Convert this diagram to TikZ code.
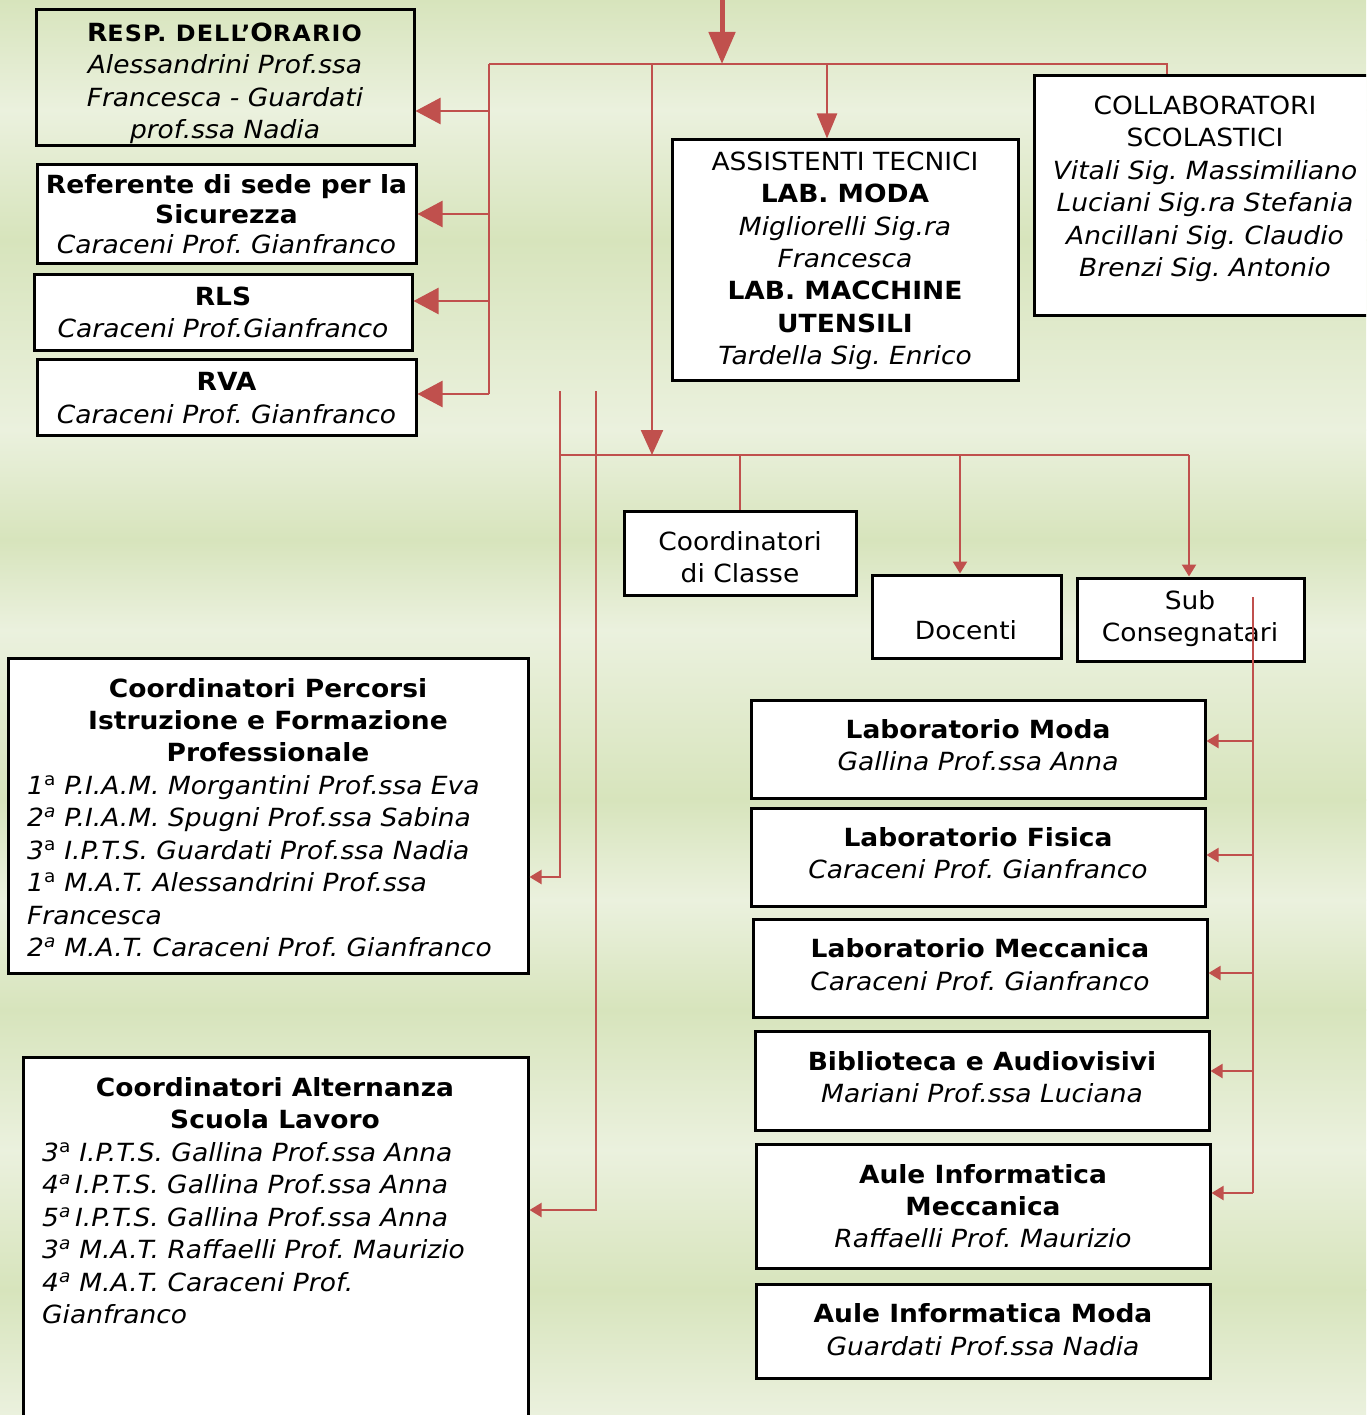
\documentclass[tikz,border=0pt]{standalone}
\usepackage{fontspec}
\setmainfont[FakeStretch=1.06]{DejaVu Sans}
\usetikzlibrary{arrows.meta}
\definecolor{bgl}{HTML}{EBF1DE}
\definecolor{bgd}{HTML}{D7E4BC}
\definecolor{link}{HTML}{C0504D}
\newcommand\smcap[1]{{\fontsize{22.5}{32.4}\selectfont #1}}
\newcommand\ord[1]{\textsuperscript{#1}}
\begin{document}
\frenchspacing
\begin{tikzpicture}[x=1pt,y=-1pt,
  box/.style={draw=black, line width=3pt, fill=white, inner sep=0pt},
  txt/.style={inner sep=0pt, align=center, yshift=-3pt, font=\fontsize{25}{32.4}\selectfont},
  conn/.style={draw=link, line width=2.4pt},
  thin/.style={draw=link, line width=2pt},
  bigtip/.style={-{Triangle[length=25pt,width=26pt]}},
  midtip/.style={-{Triangle[length=25pt,width=22pt]}},
  smalltip/.style={-{Triangle[length=12pt,width=14pt]}}]
\useasboundingbox (0,0) rectangle (1366,1415);
\clip (0,0) rectangle (1366,1415);

% banded green backdrop
\foreach \ya/\ca/\yb/\cb in {0/bgd/110/bgl, 110/bgl/240/bgd, 240/bgd/430/bgl,
    430/bgl/540/bgd, 540/bgd/630/bgl, 630/bgl/800/bgd, 800/bgd/900/bgl,
    900/bgl/1010/bgd, 1010/bgd/1150/bgl, 1150/bgl/1290/bgd, 1290/bgd/1416/bgl}
  \shade[top color=\ca, bottom color=\cb] (-1,\ya-0.5) rectangle (1367,\yb+0.5);

% ---- boxes ----
\node[box, fill=none, minimum width=378pt, minimum height=136pt] (orario) at (225,78) {};
\node[txt] (orario-t) at (225,80.5) {\strut{\addfontfeature{LetterSpace=5}\textbf{R\smcap{ESP. DELL’}O\smcap{RARIO}}}\\
  \itshape Alessandrini Prof.ssa\\ \itshape Francesca - Guardati\\ \itshape prof.ssa Nadia\strut};

\node[box, minimum width=379pt, minimum height=98pt] (sicur) at (226.5,214) {};
\node[txt, font=\fontsize{25}{30}\selectfont] (sicur-t) at (226.5,215) {\strut\textbf{Referente di sede per la}\\
  \textbf{Sicurezza}\\ \itshape Caraceni Prof. Gianfranco\strut};

\node[box, minimum width=378pt, minimum height=76pt] (rls) at (223,312) {};
\node[txt] (rls-t) at (223,312) {\strut\textbf{RLS}\\ \itshape Caraceni Prof.Gianfranco\strut};

\node[box, minimum width=379pt, minimum height=76pt] (rva) at (226.5,397) {};
\node[txt] (rva-t) at (226.5,397.5) {\strut\textbf{RVA}\\ \itshape Caraceni Prof. Gianfranco\strut};

\node[box, minimum width=346pt, minimum height=240pt] (assist) at (845,260) {};
\node[txt] (assist-t) at (845,258) {\strut ASSISTENTI TECNICI\\ \textbf{LAB. MODA}\\
  \itshape Migliorelli Sig.ra\\ \itshape Francesca\\ \textbf{LAB. MACCHINE}\\
  \textbf{UTENSILI}\\ \itshape Tardella Sig. Enrico\strut};

\node[box, minimum width=338pt, minimum height=239pt] (collab) at (1203,195.5) {};
\node[txt] (collab-t) at (1205,186) {\strut COLLABORATORI\\ SCOLASTICI\\
  \itshape Vitali Sig. Massimiliano\\ \itshape Luciani Sig.ra Stefania\\
  \itshape Ancillani Sig. Claudio\\ \itshape Brenzi Sig. Antonio\strut};

\node[box, minimum width=232pt, minimum height=84pt] (coordcl) at (740,553) {};
\node[txt] (coordcl-t) at (740,557) {\strut Coordinatori\\ di Classe\strut};

\node[box, minimum width=189pt, minimum height=83pt] (docenti) at (966.5,616.5) {};
\node[txt] (docenti-t) at (966,630) {\strut Docenti\strut};

\node[box, minimum width=227pt, minimum height=83pt] (subc) at (1190.5,619.5) {};
\node[txt] (subc-t) at (1190,616) {\strut Sub\\ Consegnatari\strut};

\node[box, minimum width=520pt, minimum height=315pt] (percorsi) at (268,815.5) {};
\node[txt] (percorsi-h) at (268,720) {\strut\textbf{Coordinatori Percorsi}\\
  \textbf{Istruzione e Formazione}\\ \textbf{Professionale}\strut};
\node[txt, align=left, anchor=west, font=\fontsize{25}{32.4}\selectfont\itshape] (percorsi-l) at (27,866) {%
  \strut1\ord{\upshape a} P.I.A.M. Morgantini Prof.ssa Eva\\
  2\ord{a} P.I.A.M. Spugni Prof.ssa Sabina\\
  3\ord{\upshape a} I.P.T.S. Guardati Prof.ssa Nadia\\
  1\ord{\upshape a} M.A.T. Alessandrini Prof.ssa\\
  Francesca\\
  2\ord{a} M.A.T. Caraceni Prof. Gianfranco\strut};

\node[box, minimum width=505pt, minimum height=368pt] (altern) at (275.5,1241) {};
\node[txt] (altern-h) at (275,1103) {\strut\textbf{Coordinatori Alternanza}\\
  \textbf{Scuola Lavoro}\strut};
\node[txt, align=left, anchor=west, font=\fontsize{25}{32.4}\selectfont\itshape] (altern-l) at (42,1233) {%
  \strut3\ord{\upshape a} I.P.T.S. Gallina Prof.ssa Anna\\
  4\ord{a}\,I.P.T.S. Gallina Prof.ssa Anna\\
  5\ord{a}\,I.P.T.S. Gallina Prof.ssa Anna\\
  3\ord{a} M.A.T. Raffaelli Prof. Maurizio\\
  4\ord{a} M.A.T. Caraceni Prof.\\
  Gianfranco\strut};

\node[box, minimum width=454pt, minimum height=98pt] (labmoda) at (978,749) {};
\node[txt] (labmoda-t) at (978,745) {\strut\textbf{Laboratorio Moda}\\ \itshape Gallina Prof.ssa Anna\strut};

\node[box, minimum width=454pt, minimum height=98pt] (labfis) at (978,857) {};
\node[txt] (labfis-t) at (978,853) {\strut\textbf{Laboratorio Fisica}\\ \itshape Caraceni Prof. Gianfranco\strut};

\node[box, minimum width=454pt, minimum height=98pt] (labmecc) at (980,968) {};
\node[txt] (labmecc-t) at (980,964.5) {\strut\textbf{Laboratorio Meccanica}\\ \itshape Caraceni Prof. Gianfranco\strut};

\node[box, minimum width=454pt, minimum height=99pt] (biblio) at (982,1080.5) {};
\node[txt] (biblio-t) at (982,1077) {\strut\textbf{Biblioteca e Audiovisivi}\\ \itshape Mariani Prof.ssa Luciana\strut};

\node[box, minimum width=454pt, minimum height=124pt] (aulemecc) at (983,1206) {};
\node[txt] (aulemecc-t) at (983,1206) {\strut\textbf{Aule Informatica}\\ \textbf{Meccanica}\\ \itshape Raffaelli Prof. Maurizio\strut};

\node[box, minimum width=454pt, minimum height=94pt] (aulemoda) at (983,1331) {};
\node[txt] (aulemoda-t) at (983,1329.5) {\strut\textbf{Aule Informatica Moda}\\ \itshape Guardati Prof.ssa Nadia\strut};

% ---- junction points ----
\coordinate (top) at (722,-2);
\coordinate (j0) at (722,64);
\coordinate (bL) at (489,64);
\coordinate (bR) at (1167,64);
\coordinate (bA) at (652,64);
\coordinate (bB) at (827,64);
\coordinate (lEnd) at (489,394);
\coordinate (l1) at (489,111);
\coordinate (l2) at (489,214);
\coordinate (l3) at (489,301);
\coordinate (l4) at (489,394);
\coordinate (cA) at (652,455);
\coordinate (cL) at (560,455);
\coordinate (cR) at (1189,455);
\coordinate (cC) at (740,455);
\coordinate (cD) at (960,455);
\coordinate (v1) at (560,391);
\coordinate (v1e) at (560,877);
\coordinate (v2) at (596,391);
\coordinate (v2e) at (596,1210);
\coordinate (r0) at (1253,597);
\coordinate (r1) at (1253,741);
\coordinate (r2) at (1253,855);
\coordinate (r3) at (1253,973);
\coordinate (r4) at (1253,1071);
\coordinate (r5) at (1253,1193);

% ---- connectors ----
\draw[conn, line width=5pt, -{Triangle[length=32pt,width=26pt]}] (top) -- (j0);
\draw[conn] (bL) -- (bR) -- (bR |- collab.north);
\draw[conn] (bL) -- (lEnd);
\draw[conn, bigtip] (l1) -- (orario.east |- l1);
\draw[conn, bigtip] (l2) -- (sicur.east |- l2);
\draw[conn, bigtip] (l3) -- (rls.east |- l3);
\draw[conn, bigtip] (l4) -- (rva.east |- l4);
\draw[conn, midtip] (bA) -- (cA);
\draw[conn, -{Triangle[length=25pt,width=20pt]}] (bB) -- (assist.north -| bB);

\draw[conn] (cL) -- (cR);
\draw[conn] (cC) -- (coordcl.north);
\draw[conn, smalltip] (cD) -- (docenti.north -| cD);
\draw[conn, smalltip] (cR) -- (subc.north -| cR);

\draw[thin, smalltip] (v1) -- (v1e) -- (percorsi.east |- v1e);
\draw[thin, smalltip] (v2) -- (v2e) -- (altern.east |- v2e);

\draw[thin] (r0) -- (r5);
\draw[thin, smalltip] (r1) -- (labmoda.east |- r1);
\draw[thin, smalltip] (r2) -- (labfis.east |- r2);
\draw[thin, smalltip] (r3) -- (labmecc.east |- r3);
\draw[thin, smalltip] (r4) -- (biblio.east |- r4);
\draw[thin, smalltip] (r5) -- (aulemecc.east |- r5);
\end{tikzpicture}
\end{document}
